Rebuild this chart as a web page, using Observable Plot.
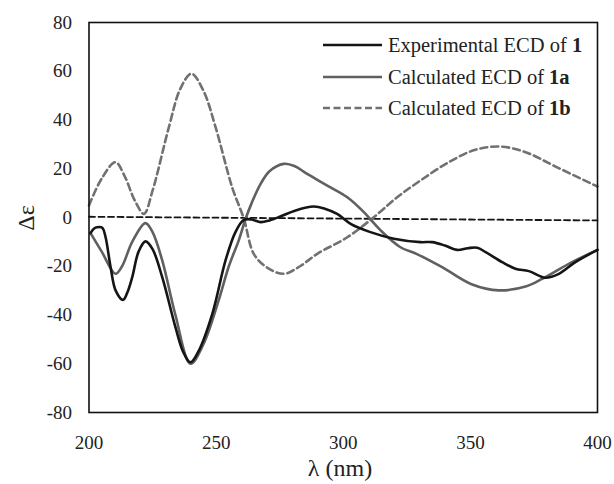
<!DOCTYPE html>
<html>
<head>
<meta charset="utf-8">
<script src="https://cdn.jsdelivr.net/npm/d3@7"></script>
<script src="https://cdn.jsdelivr.net/npm/@observablehq/plot@0.6"></script>
<style>
  html, body { margin: 0; padding: 0; background: #fff; }
  svg { display: block; }
</style>
</head>
<body>
<div id="chart"></div>
<script>
// ---- data ----
const xTicks = [200, 250, 300, 350, 400];
const yTicks = [-80, -60, -40, -20, 0, 20, 40, 60, 80];

const seriesNames = ["Experimental ECD of ", "Calculated ECD of ", "Calculated ECD of "];
const seriesBold = ["1", "1a", "1b"];

const expX = [200.6, 202, 203.2, 205.2, 206.5, 208.5, 210.5, 213.4, 215, 217, 219.5, 222.2, 225, 228.8, 234, 237, 239.9, 243, 248.5, 253.7, 257.6, 260.9, 264, 267.5, 271, 275.3, 281, 288.4, 293, 297.6, 302.9, 310.7, 319.9, 330.4, 335, 340, 344.8, 349, 352.7, 356, 362.5, 367.7, 373, 379.5, 384.8, 391.3, 400];
const expY = [-6.4, -4.5, -4.0, -4.2, -8, -20.4, -30, -33.8, -31, -24.5, -14, -9.8, -13, -24.5, -45, -55, -59.4, -55, -39.5, -17.6, -6.0, -1, -0.8, -1.9, -1.2, 0.4, 2.8, 4.5, 3.5, 1.5, -2.6, -6, -8.7, -10.1, -10.1, -11.5, -13.3, -12.6, -12.4, -14.2, -18.3, -21, -22, -24.7, -23.1, -18.3, -13.3];

const calcAX = [200.6, 205, 210.4, 213, 217, 222.2, 225, 228.8, 234, 239.9, 245, 251, 255, 258.9, 261.6, 264, 267.5, 271, 276.6, 281, 285.8, 293.7, 301.6, 308.1, 314.7, 322.5, 329, 338.9, 350.7, 361.2, 371.7, 378.2, 388.7, 400];
const calcAY = [-6.4, -14, -23.1, -20, -10, -2.3, -6, -17.6, -40, -60, -52, -34, -20, -9.4, -0.5, 6, 13.8, 19, 22, 21, 17.9, 13.1, 8.3, 2.2, -5.3, -12.2, -15, -20.4, -27.5, -29.9, -28.3, -25.2, -19, -13.3];

const calcBX = [200, 205, 210.4, 214, 218, 221.6, 225, 231.4, 236, 240.3, 245, 249.8, 256.3, 260.9, 264.8, 270, 276.6, 283, 289.8, 301.6, 312, 321.2, 330.4, 341.5, 352, 361.8, 371.7, 383.5, 400];
const calcBY = [4.9, 16, 22.7, 17, 7, 1.5, 11, 37, 53, 59, 52, 37, 12.4, -0.5, -14.9, -20.5, -23.1, -20, -14.9, -8.1, 0.1, 8.3, 15.2, 22.7, 27.8, 29.1, 26.8, 20.9, 12.7];

const baseX = [200, 400];
const baseY = [0.3, -1.2];

// ---- build tables ----
const zip = (xs, ys) => xs.map((x, i) => ({x, y: ys[i]}));
const expData = zip(expX, expY);
const calcAData = zip(calcAX, calcAY);
const calcBData = zip(calcBX, calcBY);
const baseData = zip(baseX, baseY);

const FONT = "Liberation Serif, serif";
const colExp = "#151515", colA = "#606060", colB = "#717171";

const plot = Plot.plot({
  width: 614,
  height: 484,
  marginLeft: 88.5,
  marginRight: 17,
  marginTop: 22,
  marginBottom: 72,
  style: "background:#fff; overflow:visible; color:#222;",
  x: {domain: [200, 400]},
  y: {domain: [-80, 80]},
  marks: [
    Plot.line(baseData, {x: "x", y: "y", stroke: colExp, strokeWidth: 1.8, strokeDasharray: "6,3.5"}),
    Plot.line(calcBData, {x: "x", y: "y", stroke: colB, strokeWidth: 2.6, strokeDasharray: "7,4", curve: "catmull-rom"}),
    Plot.line(calcAData, {x: "x", y: "y", stroke: colA, strokeWidth: 2.6, curve: "catmull-rom"}),
    Plot.line(expData, {x: "x", y: "y", stroke: colExp, strokeWidth: 2.6, curve: "catmull-rom"}),
    Plot.frame({stroke: "#111", strokeWidth: 1.6}),
    Plot.axisX(xTicks, {tickSize: 0, tickPadding: 23, label: null, fontSize: 19, tickFormat: d => String(d)}),
    Plot.axisY(yTicks, {tickSize: 0, tickPadding: 17, label: null, fontSize: 19, tickFormat: d => String(d)})
  ]
});

const svg = d3.select(plot);
svg.attr("font-family", FONT).style("font-family", FONT).style("font-variant", "normal");

// axis titles
svg.append("text")
  .attr("x", 340).attr("y", 476)
  .attr("text-anchor", "middle")
  .attr("font-size", 24).attr("fill", "#222")
  .text("λ (nm)");
svg.append("text")
  .attr("transform", "translate(34,218) rotate(-90)")
  .attr("text-anchor", "middle")
  .attr("font-size", 24).attr("fill", "#222")
  .text("Δε");

// legend
const legRows = [
  {stroke: colExp, dash: null},
  {stroke: colA, dash: null},
  {stroke: colB, dash: "7,3.5"}
];
const legY = [45, 77, 108];
const lg = svg.append("g");
legRows.forEach((r, i) => {
  lg.append("line")
    .attr("x1", 323).attr("x2", 382).attr("y1", legY[i]).attr("y2", legY[i])
    .attr("stroke", r.stroke).attr("stroke-width", 2.6)
    .attr("stroke-dasharray", r.dash);
  const t = lg.append("text")
    .attr("x", 388).attr("y", legY[i]).attr("dy", "0.34em")
    .attr("text-anchor", "start")
    .attr("font-size", 20.5).attr("fill", "#222");
  t.append("tspan").text(seriesNames[i]);
  t.append("tspan").attr("font-weight", "bold").text(seriesBold[i]);
});

svg.selectAll("g, text").attr("font-family", FONT).style("font-family", FONT);

document.getElementById("chart").appendChild(plot);
</script>
</body>
</html>
